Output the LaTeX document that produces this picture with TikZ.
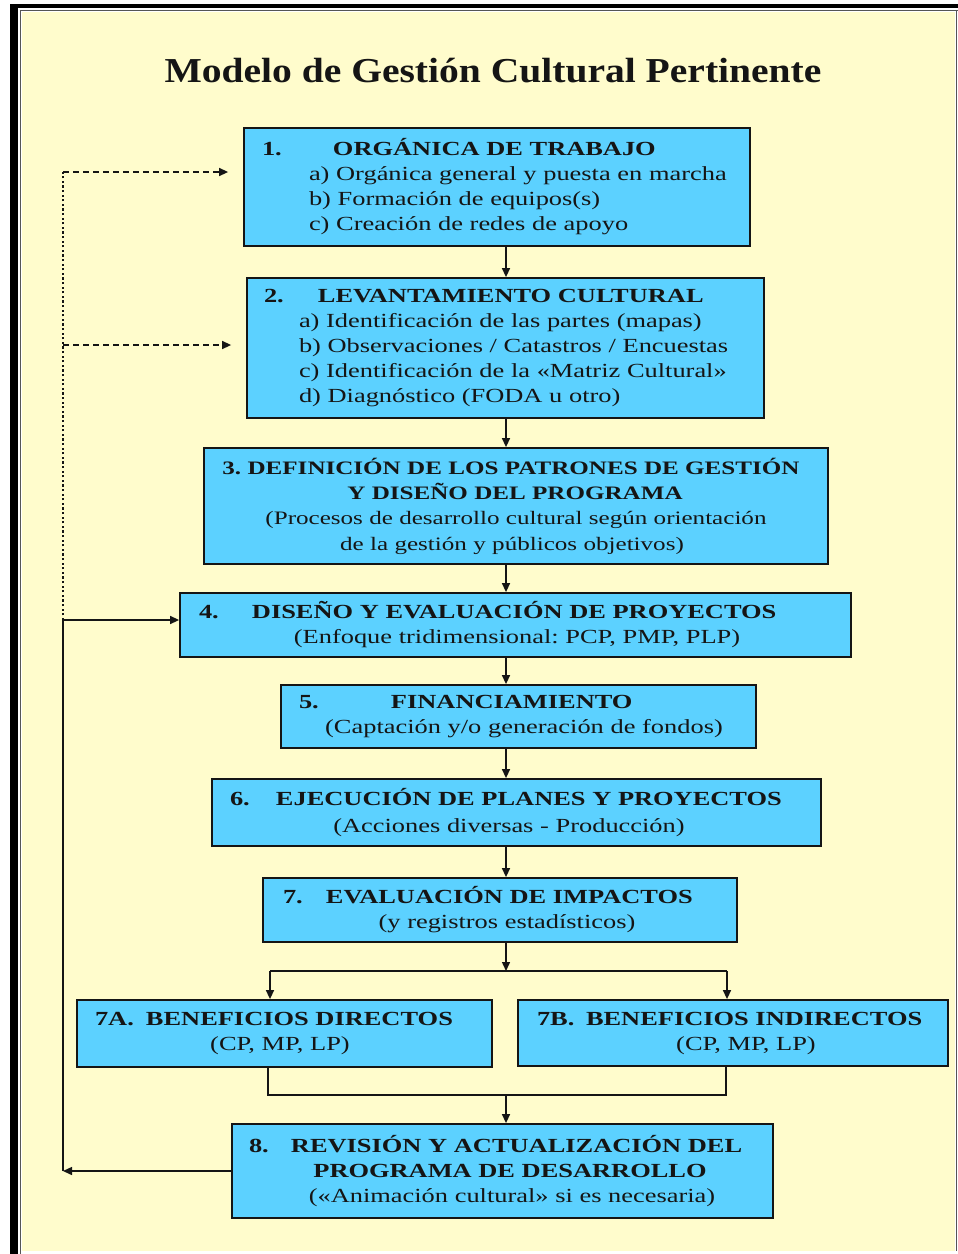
\documentclass[tikz,border=0pt]{standalone}
\usepackage{fontspec}
\setmainfont{Liberation Serif}[FakeStretch=1.32]
\newfontfamily\titlefont{Liberation Serif}[FakeStretch=1.13]
\usetikzlibrary{arrows.meta}
\frenchspacing

\definecolor{paper}{HTML}{FFFCCC}
\definecolor{boxfill}{HTML}{5CD1FF}
\definecolor{ink}{HTML}{151515}
\definecolor{rule}{HTML}{555555}

% one line of a box: number at #1, heading from #2 (offsets from the left edge)
\newcommand\numhead[4]{\makebox[0pt][l]{\hspace*{#1pt}\makebox[\dimexpr #2pt-#1pt\relax][l]{\bfseries #3}\bfseries #4}}
% left-aligned line starting at #1
\newcommand\lefttext[2]{\makebox[0pt][l]{\hspace*{#1pt}#2}}
% line centred on #1
\newcommand\midtext[2]{\makebox[0pt][l]{\hspace*{#1pt}\makebox[0pt]{#2}}}

\tikzset{
  stage/.style n args={2}{draw=ink, line width=1.8pt, fill=boxfill,
    inner xsep=0pt, inner ysep=0pt, align=left, text=ink,
    minimum width=#1pt, text width=#1pt, minimum height=#2pt,
    font=\fontsize{20}{25}\selectfont},
  link/.style={draw=ink, line width=1.4pt, line join=miter},
  flow/.style={link, -{Triangle[length=9pt,width=8pt]}},
  dashflow/.style={flow, dash pattern=on 6pt off 4pt, shorten >=15pt},
  dotline/.style={draw=ink, line width=2.4pt, dash pattern=on 2.2pt off 2.4pt}
}

\begin{document}
\begin{tikzpicture}[x=1pt,y=-1pt]
\useasboundingbox (0,0) rectangle (958,1254);

% page frame
\fill[white] (0,0) rectangle (958,1254);
\fill[paper] (22,12) rectangle (955,1251);
\fill[black] (10,4) rectangle (18,1254);
\fill[black] (10,4) rectangle (958,8);
\draw[rule, line width=1.2pt] (20.5,1254) -- (20.5,10.5) -- (958,10.5);
\draw[rule, line width=1pt] (956,10.5) -- (956,1251);

% title
\node[anchor=base, text=ink, font=\titlefont\bfseries\fontsize{35}{40}\selectfont] (title) at (493,82)
  {Modelo de Gestión Cultural Pertinente};

% stages
\node[stage={506}{118}] (b1) at (497,187) {%
  \numhead{18}{89}{1.}{ORGÁNICA DE TRABAJO}\\
  \lefttext{65}{a)\ Orgánica general y puesta en marcha}\\
  \lefttext{65}{b)\ Formación de equipos(s)}\\
  \lefttext{65}{c)\ Creación de redes de apoyo}};

\node[stage={517}{140}] (b2) at (505.5,348) {%
  \numhead{17}{71}{2.}{LEVANTAMIENTO CULTURAL}\\
  \lefttext{52}{a) Identificación de las partes (mapas)}\\
  \lefttext{52}{b) Observaciones / Catastros / Encuestas}\\
  \lefttext{52}{c) Identificación de la «Matriz Cultural»}\\
  \lefttext{52}{d) Diagnóstico (FODA u otro)}};

\node[stage={624}{116}, font=\fontsize{19}{25.3}\selectfont] (b3) at (516,506) {%
  \midtext{307}{\bfseries 3. DEFINICIÓN DE LOS PATRONES DE GESTIÓN}\\
  \midtext{311}{\bfseries Y DISEÑO DEL PROGRAMA}\\
  \midtext{312}{(Procesos de desarrollo cultural según orientación}\\
  \midtext{308}{de la gestión y públicos objetivos)}};

\node[stage={671}{64}] (b4) at (515.5,625) {%
  \numhead{19}{72}{4.}{DISEÑO Y EVALUACIÓN DE PROYECTOS}\\
  \midtext{337}{(Enfoque tridimensional: PCP, PMP, PLP)}};

\node[stage={475}{63}] (b5) at (518.5,716.5) {%
  \numhead{18}{110}{5.}{FINANCIAMIENTO}\\
  \midtext{243}{(Captación y/o generación de fondos)}};

\node[stage={609}{67}] (b6) at (516.5,812.5) {%
  \numhead{18}{64}{6.}{EJECUCIÓN DE PLANES Y PROYECTOS}\\[2pt]
  \midtext{297}{(Acciones diversas - Producción)}};

\node[stage={474}{64}] (b7) at (500,910) {%
  \numhead{20}{63}{7.}{EVALUACIÓN DE IMPACTOS}\\
  \midtext{244}{(y registros estadísticos)}};

\node[stage={415}{67}] (b7a) at (284.5,1033.5) {%
  \numhead{18}{69}{7A.}{BENEFICIOS DIRECTOS}\\
  \midtext{203}{(CP, MP, LP)}};

\node[stage={430}{66}] (b7b) at (733,1033) {%
  \numhead{19}{68}{7B.}{BENEFICIOS INDIRECTOS}\\
  \midtext{228}{(CP, MP, LP)}};

\node[stage={541}{94}] (b8) at (502.5,1171) {%
  \numhead{17}{59}{8.}{REVISIÓN Y ACTUALIZACIÓN DEL}\\
  \midtext{278}{\bfseries PROGRAMA DE DESARROLLO}\\
  \midtext{280}{(«Animación cultural» si es necesaria)}};

% main sequence
\coordinate (spine) at (506,0);
\draw[flow] (b1.south -| spine) -- (b2.north -| spine);
\draw[flow] (b2.south -| spine) -- (b3.north -| spine);
\draw[flow] (b3.south -| spine) -- (b4.north -| spine);
\draw[flow] (b4.south -| spine) -- (b5.north -| spine);
\draw[flow] (b5.south -| spine) -- (b6.north -| spine);
\draw[flow] (b6.south -| spine) -- (b7.north -| spine);

% split into direct / indirect benefits
\coordinate (split)  at (506,971);
\coordinate (splitL) at (270,971);
\coordinate (splitR) at (727,971);
\draw[flow] (b7.south -| spine) -- (split);
\draw[link] (splitL) -- (splitR);
\draw[flow] (splitL) -- (splitL |- b7a.north);
\draw[flow] (splitR) -- (splitR |- b7b.north);

% merge towards the review stage
\coordinate (mergeL) at (268,1095);
\coordinate (mergeR) at (726,1095);
\coordinate (merge)  at (506,1095);
\draw[link] (mergeL |- b7a.south) -- (mergeL) -- (mergeR) -- (mergeR |- b7b.south);
\draw[flow] (merge) -- (merge |- b8.north);

% feedback loop
\coordinate (loopBot) at (63,1171);
\coordinate (loopTop) at (63,620);
\coordinate (dashTop) at (63,172);
\coordinate (dashMid) at (63,345);
\draw[flow] (b8.west) -- (loopBot);
\draw[flow] (loopBot) -- (loopTop) -- (loopTop -| b4.west);
\draw[dotline] (loopTop) -- (dashTop);
\draw[dashflow] (dashTop) -- (dashTop -| b1.west);
\draw[dashflow] (dashMid) -- (dashMid -| b2.west);
\end{tikzpicture}
\end{document}
